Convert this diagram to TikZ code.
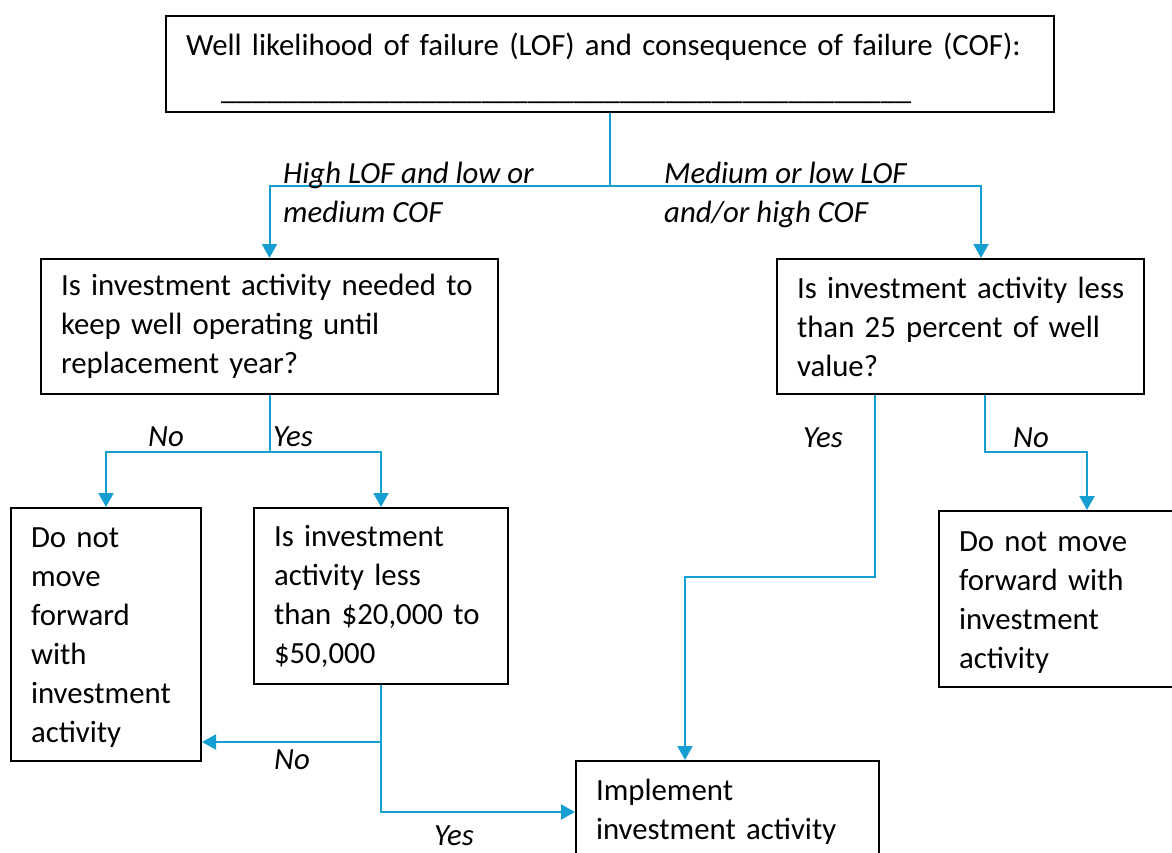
\documentclass[tikz,border=0pt]{standalone}
\usepackage{fontspec}
\setmainfont{Carlito}
\usetikzlibrary{arrows.meta,calc}
\definecolor{flow}{RGB}{20,158,210}
\newcommand{\blankline}{\_\_\_\_\_\_\_\_\_\_\_\_\_\_\_\_\_\_\_\_\_\_\_\_\_\_\_\_\_\_\_\_\_\_\_\_\_\_\_\_\_\_\_\_\_}
\begin{document}
\begin{tikzpicture}[x=1pt,y=-1pt,
  box/.style={draw=black,line width=2pt,anchor=north west,align=left,
    inner xsep=20pt,inner ysep=0pt,font=\fontsize{30.8}{39}\selectfont},
  link/.style={draw=flow,line width=2pt},
  arr/.style={link,-{Triangle[width=15pt,length=14pt]}},
  lbl/.style={font=\fontsize{30.8}{39}\selectfont\itshape,align=left,
    anchor=west,inner sep=0pt}]
\useasboundingbox (0,0) rectangle (1172,853);

% decision boxes
\node[box,text width=848pt,minimum height=96pt] (top) at (165,15)
  {\rule{0pt}{32pt}Well likelihood of failure (LOF) and consequence of failure (COF):\\[5pt]
   \hspace*{35pt}\blankline};
\node[box,text width=417pt,minimum height=135pt] (q1) at (40,258)
  {Is investment activity needed to\\keep well operating until\\replacement year?};
\node[box,text width=327pt,minimum height=135pt] (q2) at (776,258)
  {\mbox{Is investment activity less}\\than 25 percent of well\\value?};
\node[box,text width=150pt,minimum height=253pt] (stopl) at (10,507)
  {\rule{0pt}{26pt}Do not\\move\\forward\\with\\investment\\activity};
\node[box,text width=214pt,minimum height=176pt] (q3) at (253,507)
  {Is investment\\activity less\\than \$20,000 to\\\$50,000};
\node[box,text width=258pt,minimum height=176pt] (stopr) at (938,510)
  {\rule{0pt}{27pt}Do not move\\forward with\\investment\\activity};
\node[box,text width=263pt,minimum height=102pt] (impl) at (575,760)
  {Implement\\investment activity};

% junctions and entry points
\coordinate (j1) at ($(top.south)+(0,73)$);
\coordinate (q2in) at ($(q2.north west)+(205,0)$);
\coordinate (j2) at ($(q1.south)+(0,57)$);
\coordinate (q2yes) at ($(q2.south west)+(99,0)$);
\coordinate (q2no) at ($(q2.south west)+(209,0)$);
\coordinate (ybend) at ($(q2yes)+(0,182)$);
\coordinate (nbend) at ($(q2no)+(0,57)$);
\coordinate (implin) at ($(impl.north west)+(110,0)$);
\coordinate (stoprin) at ($(stopr.north west)+(149,0)$);
\coordinate (j3) at ($(q3.south)+(0,57)$);

% connectors
\draw[link] (top.south) -- (j1);
\draw[arr] (j1) -| (q1.north);
\draw[arr] (j1) -| (q2in);
\draw[link] (q1.south) -- (j2);
\draw[arr] (j2) -| (stopl.north);
\draw[arr] (j2) -| (q3.north);
\draw[arr] (q2yes) -- (ybend) -| (implin);
\draw[arr] (q2no) -- (nbend) -| (stoprin);
\draw[arr] (j3) -- (stopl.east |- j3);
\draw[arr] (q3.south) |- (impl.west);

% branch labels
\node[lbl] (lhigh) at (283,192) {High LOF and low or\\medium COF};
\node[lbl] (lmed) at (664,195) {Medium or low LOF\\and/or high COF};
\node[lbl] (lno1) at (148,437) {No};
\node[lbl] (lyes1) at (273,437) {Yes};
\node[lbl] (lyes2) at (803,438) {Yes};
\node[lbl] (lno2) at (1013,438) {No};
\node[lbl] (lno3) at (274,760) {No};
\node[lbl] (lyes3) at (434,836) {Yes};
\end{tikzpicture}
\end{document}
